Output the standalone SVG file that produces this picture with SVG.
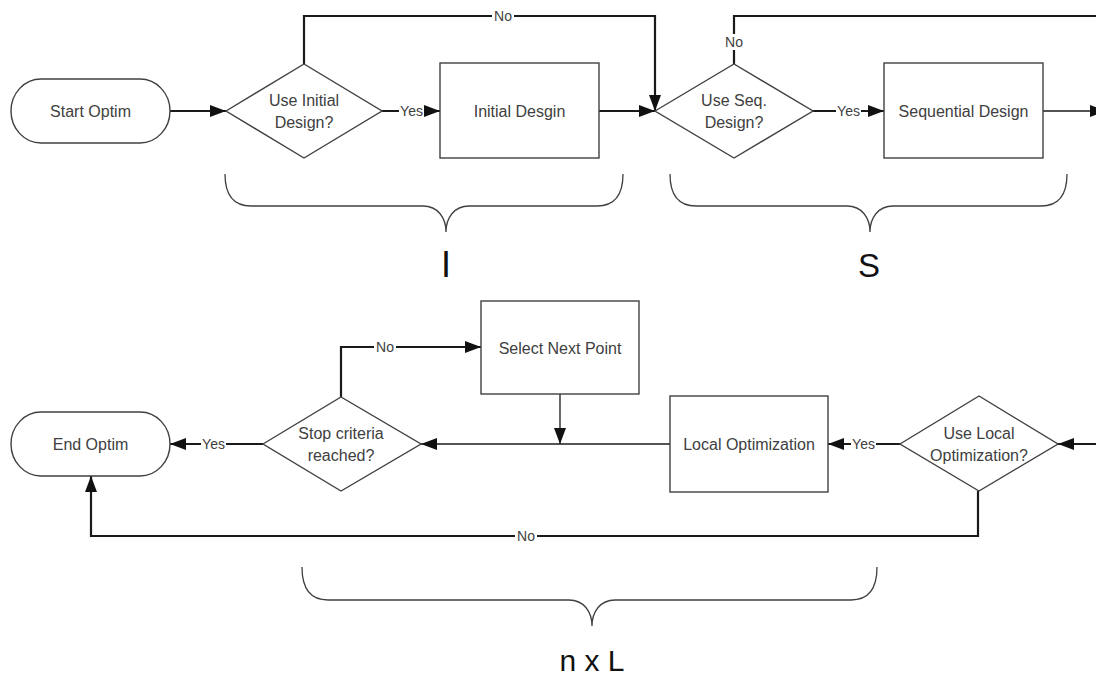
<svg xmlns="http://www.w3.org/2000/svg" width="1096" height="677" viewBox="0 0 1096 677">
  <defs>
    <marker id="arrow" markerUnits="userSpaceOnUse" markerWidth="16" markerHeight="12" refX="16" refY="6" orient="auto">
      <path d="M0,0 L16,6 L0,12 z" fill="#111"/>
    </marker>
  </defs>
  <style>
    .shape { fill: #fff; stroke: #404040; stroke-width: 1.4; }
    .txt { font-family: "Liberation Sans", Arial, sans-serif; font-size: 16px; fill: #404040; text-anchor: middle; dominant-baseline: central; }
    .lbl { font-family: "Liberation Sans", Arial, sans-serif; font-size: 14px; fill: #404040; text-anchor: middle; dominant-baseline: central; }
    .big { font-family: "Liberation Sans", Arial, sans-serif; fill: #111; text-anchor: middle; }
    .conn { fill: none; stroke: #1a1a1a; stroke-width: 2.2; }
    .thin { fill: none; stroke: #1a1a1a; stroke-width: 1.3; }
    .brace { fill: none; stroke: #404040; stroke-width: 1.3; }
    .lblbg { fill: #fff; }
  </style>
  <rect width="1096" height="677" fill="#fff"/>

  <!-- connectors -->
  <g id="connectors">
    <path class="conn" d="M170,111 H226" marker-end="url(#arrow)"/>
    <path class="conn" d="M382,111 H440" marker-end="url(#arrow)"/>
    <path class="conn" d="M599,111 H655" marker-end="url(#arrow)"/>
    <path class="conn" d="M304,64 V16 H655 V111" marker-end="url(#arrow)"/>
    <path class="conn" d="M734,64 V16 H1100"/>
    <path class="conn" d="M813,111 H884" marker-end="url(#arrow)"/>
    <path class="thin" d="M1043,111 H1106" marker-end="url(#arrow)"/>

    <path class="conn" d="M1100,444 H1058" marker-end="url(#arrow)"/>
    <path class="conn" d="M900,444 H828" marker-end="url(#arrow)"/>
    <path class="thin" d="M670,444 H421" marker-end="url(#arrow)"/>
    <path class="thin" d="M560,394 V444" marker-end="url(#arrow)"/>
    <path class="conn" d="M263,444 H170" marker-end="url(#arrow)"/>
    <path class="conn" d="M341,397 V347 H481" marker-end="url(#arrow)"/>
    <path class="conn" d="M978,491 V536 H91 V476" marker-end="url(#arrow)"/>

    <!-- connector labels -->
    <rect class="lblbg" x="399" y="103" width="25" height="16"/>
    <text class="lbl" x="411.5" y="111">Yes</text>
    <rect class="lblbg" x="492" y="8" width="22" height="16"/>
    <text class="lbl" x="503" y="16">No</text>
    <rect class="lblbg" x="723" y="34" width="22" height="16"/>
    <text class="lbl" x="734" y="42">No</text>
    <rect class="lblbg" x="836" y="103" width="25" height="16"/>
    <text class="lbl" x="848.5" y="111">Yes</text>

    <rect class="lblbg" x="851" y="436" width="25" height="16"/>
    <text class="lbl" x="863.5" y="444">Yes</text>
    <rect class="lblbg" x="201" y="436" width="25" height="16"/>
    <text class="lbl" x="213.5" y="444">Yes</text>
    <rect class="lblbg" x="374" y="339" width="22" height="16"/>
    <text class="lbl" x="385" y="347">No</text>
    <rect class="lblbg" x="515" y="528" width="22" height="16"/>
    <text class="lbl" x="526" y="536">No</text>
  </g>

  <!-- top row -->
  <g id="start">
    <rect class="shape" x="11" y="79" width="159" height="64" rx="30" ry="32"/>
    <text class="txt" x="90.5" y="111">Start Optim</text>
  </g>
  <g id="use-initial">
    <polygon class="shape" points="226,111 304,64 382,111 304,158"/>
    <text class="txt" x="304" y="100">Use Initial</text>
    <text class="txt" x="304" y="122">Design?</text>
  </g>
  <g id="initial-design">
    <rect class="shape" x="440" y="63" width="159" height="95"/>
    <text class="txt" x="519.5" y="111">Initial Desgin</text>
  </g>
  <g id="use-seq">
    <polygon class="shape" points="655,111 734,64 813,111 734,158"/>
    <text class="txt" x="734" y="100">Use Seq.</text>
    <text class="txt" x="734" y="122">Design?</text>
  </g>
  <g id="sequential-design">
    <rect class="shape" x="884" y="63" width="159" height="95"/>
    <text class="txt" x="963.5" y="111">Sequential Design</text>
  </g>

  <!-- bottom row -->
  <g id="end">
    <rect class="shape" x="11" y="412" width="159" height="64" rx="30" ry="32"/>
    <text class="txt" x="90.5" y="444">End Optim</text>
  </g>
  <g id="stop-criteria">
    <polygon class="shape" points="263,444 341,397 421,444 341,491"/>
    <text class="txt" x="341" y="433">Stop criteria</text>
    <text class="txt" x="341" y="455">reached?</text>
  </g>
  <g id="select-next">
    <rect class="shape" x="481" y="301" width="158" height="93"/>
    <text class="txt" x="560" y="348">Select Next Point</text>
  </g>
  <g id="local-opt">
    <rect class="shape" x="670" y="396" width="158" height="96"/>
    <text class="txt" x="749" y="444">Local Optimization</text>
  </g>
  <g id="use-local">
    <polygon class="shape" points="900,444 979,396 1058,444 979,491"/>
    <text class="txt" x="979" y="433">Use Local</text>
    <text class="txt" x="979" y="455">Optimization?</text>
  </g>

  <!-- braces -->
  <g id="brace-i">
    <path class="brace" d="M225,174 C225,196 234,206 251,206 L423,206 C438,206 446,218 446,232 C446,218 454,206 469,206 L597,206 C614,206 623,196 623,174"/>
    <text class="big" x="446" y="277" font-size="36">I</text>
  </g>
  <g id="brace-s">
    <path class="brace" d="M670,174 C670,196 679,206 696,206 L847,206 C862,206 870,218 870,232 C870,218 878,206 893,206 L1041,206 C1058,206 1067,196 1067,174"/>
    <text class="big" x="869" y="277" font-size="33">S</text>
  </g>
  <g id="brace-l">
    <path class="brace" d="M302,567 C302,590 311,600 328,600 L569,600 C584,600 592,612 592,626 C592,612 600,600 615,600 L851,600 C868,600 877,590 877,567"/>
    <text class="big" x="592" y="671" font-size="30">n x L</text>
  </g>
</svg>
